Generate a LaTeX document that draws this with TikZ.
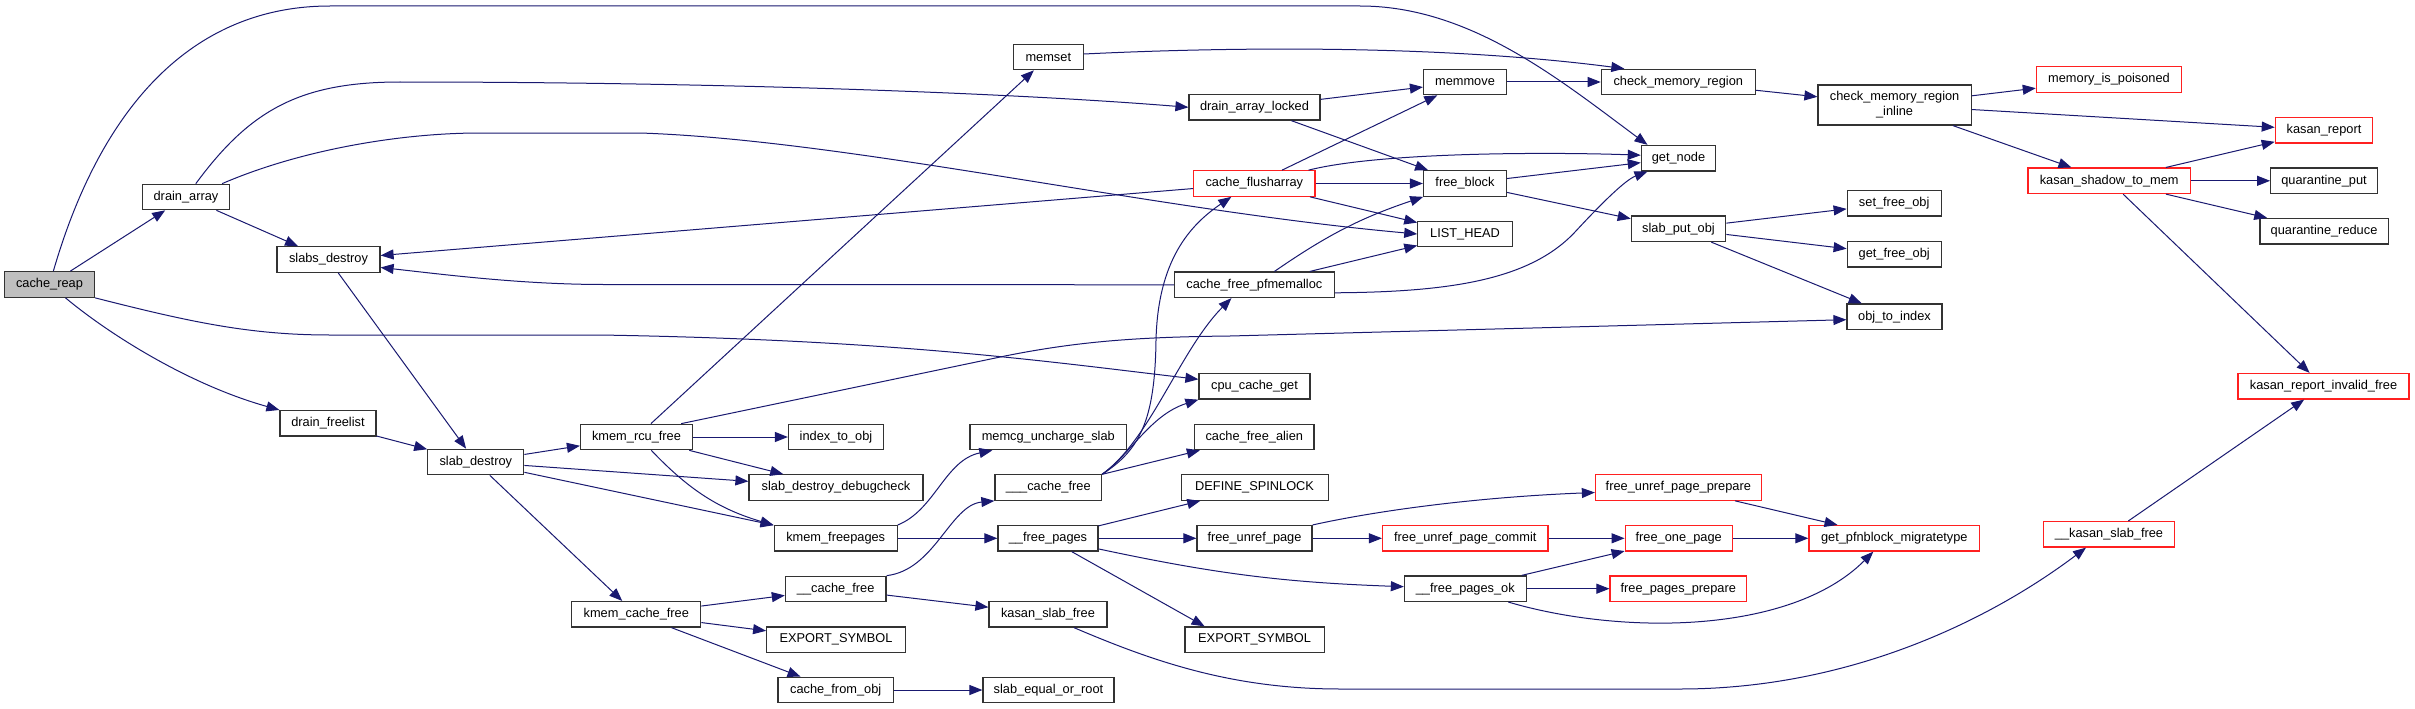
\documentclass[tikz,border=0pt]{standalone}
\usepackage{fontspec}
\setmainfont{Liberation Sans}
\usetikzlibrary{arrows.meta}
\definecolor{edgeblue}{HTML}{191970}
\definecolor{boxline}{HTML}{333333}
\definecolor{rootfill}{HTML}{BFBFBF}
\definecolor{hotred}{HTML}{FF2020}

\begin{document}
\begin{tikzpicture}[x=1pt, y=-1pt,
    func/.style={rectangle, draw=boxline, line width=1.2pt, fill=white, minimum height=25.5pt, inner sep=0pt, font=\fontsize{12.8}{15}\selectfont},
    redfunc/.style={func, draw=hotred},
    rootfunc/.style={func, fill=rootfill},
    call/.style={-{Triangle[length=13pt,width=10pt]}, line width=1pt, color=edgeblue}
]
\useasboundingbox (0,0) rectangle (2415,709);
\fill[white] (0,0) rectangle (2415,709);

\node[rootfunc, minimum width=90pt] (cachereap) at (49.5,284.5) {cache\_reap};
\node[func, minimum width=87pt] (drainarray) at (186,197) {drain\_array};
\node[func, minimum width=103pt] (slabsdestroy) at (328.5,259.5) {slabs\_destroy};
\node[func, minimum width=96pt] (drainfreelist) at (328,423.3) {drain\_freelist};
\node[func, minimum width=96pt] (slabdestroy) at (475.8,462) {slab\_destroy};
\node[func, minimum width=112pt] (kmemrcufree) at (636.5,437) {kmem\_rcu\_free};
\node[func, minimum width=129pt] (kmemcachefree) at (636.3,614.3) {kmem\_cache\_free};
\node[func, minimum width=70pt] (memset) at (1048.3,57) {memset};
\node[func, minimum width=95pt] (indextoobj) at (836,437) {index\_to\_obj};
\node[func, minimum width=174pt] (debugcheck) at (836,487.5) {slab\_destroy\_debugcheck};
\node[func, minimum width=123pt] (kmemfreepages) at (835.7,538.3) {kmem\_freepages};
\node[func, minimum width=100.6pt] (cachefreetwo) at (835.7,589) {\_\_cache\_free};
\node[func, minimum width=138.6pt] (exportsymone) at (836,639.7) {EXPORT\_SYMBOL};
\node[func, minimum width=115.3pt] (cachefromobj) at (835.7,690) {cache\_from\_obj};
\node[func, minimum width=156.7pt] (memcguncharge) at (1048.3,437) {memcg\_uncharge\_slab};
\node[func, minimum width=106.7pt] (cachefreethree) at (1048.3,487.5) {\_\_\_cache\_free};
\node[func, minimum width=100pt] (freepagestwo) at (1048,538.3) {\_\_free\_pages};
\node[func, minimum width=118pt] (kasanslabfree) at (1048,614.3) {kasan\_slab\_free};
\node[func, minimum width=131pt] (slabequal) at (1048.5,690) {slab\_equal\_or\_root};
\node[func, minimum width=131pt] (drainarraylocked) at (1254.5,107.3) {drain\_array\_locked};
\node[redfunc, minimum width=121.3pt] (flusharray) at (1254.3,183.5) {cache\_flusharray};
\node[func, minimum width=160pt] (pfmemalloc) at (1254.4,284.8) {cache\_free\_pfmemalloc};
\node[func, minimum width=111pt] (cpucacheget) at (1254.5,386.3) {cpu\_cache\_get};
\node[func, minimum width=119.5pt] (freealien) at (1254.3,437) {cache\_free\_alien};
\node[func, minimum width=147pt] (spinlock) at (1254.6,487.5) {DEFINE\_SPINLOCK};
\node[func, minimum width=115pt] (freeunrefpage) at (1254.5,538.3) {free\_unref\_page};
\node[func, minimum width=139.3pt] (exportsymtwo) at (1254.6,639.7) {EXPORT\_SYMBOL};
\node[func, minimum width=83pt] (memmove) at (1465,82) {memmove};
\node[func, minimum width=83pt] (freeblock) at (1465,183.5) {free\_block};
\node[func, minimum width=94.3pt] (listhead) at (1465,234) {LIST\_HEAD};
\node[redfunc, minimum width=165.5pt] (unrefcommit) at (1465.3,538.3) {free\_unref\_page\_commit};
\node[func, minimum width=121.7pt] (freepagesok) at (1465.3,588.7) {\_\_free\_pages\_ok};
\node[func, minimum width=154pt] (checkregion) at (1678.3,82) {check\_memory\_region};
\node[func, minimum width=74.3pt] (getnode) at (1678.5,158.2) {get\_node};
\node[func, minimum width=94.4pt] (slabputobj) at (1678.5,228.8) {slab\_put\_obj};
\node[redfunc, minimum width=165.7pt] (unrefprepare) at (1678.3,487.5) {free\_unref\_page\_prepare};
\node[redfunc, minimum width=107pt] (freeonepage) at (1678.7,538.3) {free\_one\_page};
\node[redfunc, minimum width=136.5pt] (pagesprepare) at (1678.3,588.7) {free\_pages\_prepare};
\node[func, minimum width=153.2pt, minimum height=40pt, align=center] (regioninline) at (1894.6,105) {check\_memory\_region\\\_inline};
\node[func, minimum width=94pt] (setfreeobj) at (1894.2,203.3) {set\_free\_obj};
\node[func, minimum width=94pt] (getfreeobj) at (1894.2,254.3) {get\_free\_obj};
\node[func, minimum width=95pt] (objtoindex) at (1894.5,316.7) {obj\_to\_index};
\node[redfunc, minimum width=170.7pt] (migratetype) at (1894.3,538.3) {get\_pfnblock\_migratetype};
\node[redfunc, minimum width=145.3pt] (ispoisoned) at (2109,79.5) {memory\_is\_poisoned};
\node[redfunc, minimum width=162.4pt] (shadowtomem) at (2109.2,180.8) {kasan\_shadow\_to\_mem};
\node[redfunc, minimum width=131pt] (kasanslabfreetwo) at (2109,534.3) {\_\_kasan\_slab\_free};
\node[redfunc, minimum width=97.4pt] (kasanreport) at (2324,130.2) {kasan\_report};
\node[func, minimum width=106.6pt] (quarantineput) at (2324,180.8) {quarantine\_put};
\node[func, minimum width=128.2pt] (quarantinereduce) at (2324,231.3) {quarantine\_reduce};
\node[redfunc, minimum width=171pt] (invalidfree) at (2323.5,386.2) {kasan\_report\_invalid\_free};

\draw[call] (cachereap) .. controls (100,110) and (190,6) .. (330,6) -- (1360,6) .. controls (1470,6) and (1560,80) .. ([xshift=-31pt]getnode.north);
\draw[call] (cachereap) -- (drainarray);
\draw[call] (cachereap.south east) .. controls (190,322) and (250,335) .. (330,335) -- (600,335) .. controls (900,340) and (1050,362) .. ([yshift=7pt]cpucacheget.west);
\draw[call] (cachereap) .. controls (110,335) and (190,385) .. (drainfreelist.north west);
\draw[call] (drainarray) .. controls (250,110) and (300,82) .. (400,82) .. controls (700,82) and (1000,92) .. (drainarraylocked.west);
\draw[call] ([xshift=-8pt]drainarray.north east) .. controls (300,150) and (400,133) .. (480,133) -- (640,133) .. controls (850,140) and (1150,210) .. (listhead.west);
\draw[call] (drainarray) -- (slabsdestroy);
\draw[call] (flusharray) -- ([yshift=4pt]slabsdestroy.east);
\draw[call] (pfmemalloc.west) -- (604,284.5) .. controls (520,284.5) and (440,274) .. ([yshift=-8pt]slabsdestroy.east);
\draw[call] (slabsdestroy) -- (slabdestroy);
\draw[call] (drainfreelist) -- (slabdestroy);
\draw[call] (slabdestroy) -- (kmemrcufree);
\draw[call] (slabdestroy) -- (debugcheck);
\draw[call] (slabdestroy) -- (kmemfreepages);
\draw[call] (slabdestroy) -- (kmemcachefree);
\draw[call] (kmemrcufree) -- (memset);
\draw[call] ([xshift=-12pt]kmemrcufree.north east) -- (1005,356) .. controls (1080,341) and (1140,337) .. (1230,336) -- ([yshift=-3pt]objtoindex.west);
\draw[call] (kmemrcufree) -- (indextoobj);
\draw[call] (kmemrcufree) -- (debugcheck);
\draw[call] (kmemrcufree) to[bend right=15] (kmemfreepages);
\draw[call] (kmemfreepages.north east) .. controls (935,510) and (945,460) .. ([xshift=23pt]memcguncharge.south west);
\draw[call] (kmemfreepages) -- (freepagestwo);
\draw[call] (kmemcachefree) -- (cachefreetwo);
\draw[call] (kmemcachefree) -- (exportsymone);
\draw[call] (kmemcachefree) -- (cachefromobj);
\draw[call] (cachefromobj) -- (slabequal);
\draw[call] (cachefreetwo.north east) .. controls (935,570) and (950,505) .. (cachefreethree.south west);
\draw[call] (cachefreetwo) -- (kasanslabfree);
\draw[call] (cachefreethree.north east) .. controls (1140,450) and (1155,420) .. (1156,340) .. controls (1158,260) and (1190,225) .. ([xshift=-23pt]flusharray.south);
\draw[call] (cachefreethree.north east) .. controls (1150,440) and (1180,350) .. ([xshift=-23pt]pfmemalloc.south);
\draw[call] (cachefreethree.north east) .. controls (1130,455) and (1150,415) .. (cpucacheget.south west);
\draw[call] (cachefreethree) -- (freealien);
\draw[call] (freepagestwo) -- (spinlock);
\draw[call] (freepagestwo) -- (freeunrefpage);
\draw[call] (freepagestwo) to[bend right=5] (freepagesok);
\draw[call] (freepagestwo) -- ([xshift=-50pt]exportsymtwo.north);
\draw[call] (freeunrefpage.north east) .. controls (1380,510) and (1480,497) .. ([yshift=-5pt]unrefprepare.west);
\draw[call] (freeunrefpage) -- (unrefcommit);
\draw[call] (unrefcommit) -- (freeonepage);
\draw[call] (freeonepage) -- (migratetype);
\draw[call] (unrefprepare) -- (migratetype);
\draw[call] (freepagesok) -- (freeonepage);
\draw[call] (freepagesok) -- (pagesprepare);
\draw[call] ([xshift=43pt]freepagesok.south) .. controls (1620,635) and (1790,635) .. ([xshift=-21pt]migratetype.south);
\draw[call] ([xshift=26pt]kasanslabfree.south) .. controls (1150,660) and (1230,689) .. (1340,689) -- (1680,689) .. controls (1850,689) and (1990,620) .. ([xshift=-23pt]kasanslabfreetwo.south);
\draw[call] (kasanslabfreetwo) -- (invalidfree);
\draw[call] (drainarraylocked) -- (memmove);
\draw[call] (drainarraylocked) -- (freeblock);
\draw[call] (flusharray) -- (memmove);
\draw[call] ([xshift=-7pt]flusharray.north east) .. controls (1380,152) and (1550,152) .. ([yshift=3pt]getnode.west);
\draw[call] (flusharray) -- (freeblock);
\draw[call] (flusharray) -- (listhead);
\draw[call] (pfmemalloc) to[bend left=8] (freeblock);
\draw[call] (pfmemalloc) -- (listhead);
\draw[call] ([yshift=-8pt]pfmemalloc.east) .. controls (1450,292) and (1530,280) .. (1575,232) .. controls (1600,205) and (1625,180) .. ([xshift=-31pt]getnode.south);
\draw[call] ([yshift=3pt]memset.east) .. controls (1250,46) and (1450,46) .. ([xshift=-54pt]checkregion.north);
\draw[call] (memmove) -- (checkregion);
\draw[call] (checkregion) -- (regioninline);
\draw[call] (freeblock) -- (getnode);
\draw[call] (freeblock) -- (slabputobj);
\draw[call] (slabputobj) -- (setfreeobj);
\draw[call] (slabputobj) -- (getfreeobj);
\draw[call] (slabputobj) -- (objtoindex);
\draw[call] (regioninline) -- (ispoisoned);
\draw[call] (regioninline) -- (kasanreport);
\draw[call] (regioninline) -- (shadowtomem);
\draw[call] (shadowtomem) -- (kasanreport);
\draw[call] (shadowtomem) -- (quarantineput);
\draw[call] (shadowtomem) -- (quarantinereduce);
\draw[call] (shadowtomem) -- (invalidfree);
\end{tikzpicture}
\end{document}
